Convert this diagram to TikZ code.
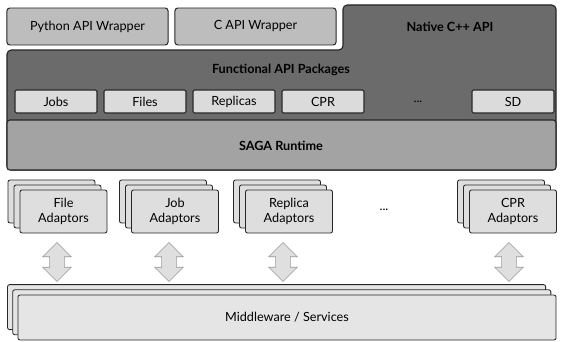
\documentclass[tikz,border=0pt]{standalone}
\usepackage{fontspec}
\setmainfont{Lato}
\usetikzlibrary{shapes.arrows,shadows}
\definecolor{wrapgray}{gray}{0.74}
\definecolor{coregray}{gray}{0.42}
\definecolor{rtgray}{gray}{0.64}
\definecolor{pkggray}{gray}{0.86}
\definecolor{adpgray}{gray}{0.87}
\definecolor{mwgray}{gray}{0.9}
\begin{document}
\begin{tikzpicture}[x=0.025cm, y=-0.025cm,
      font=\fontsize{9}{10.5}\selectfont,
      wrapbox/.style={draw=black!85, line width=0.7pt, rounded corners=2pt, fill=wrapgray, minimum width=4.025cm, minimum height=0.925cm},
      title/.style={font=\fontsize{9}{10.5}\selectfont\bfseries},
      pkgbox/.style={draw=black!85, line width=0.8pt, rounded corners=1pt, fill=pkggray, minimum width=2.05cm, minimum height=0.575cm},
      adpbox/.style={draw=black!85, line width=0.6pt, rounded corners=1.5pt, fill=adpgray, minimum width=2.175cm, minimum height=1.075cm, align=center, double copy shadow={shadow xshift=-0.15cm, shadow yshift=0.125cm}},
      mwbox/.style={draw=black!85, line width=0.6pt, rounded corners=1.5pt, fill=mwgray, minimum width=13.45cm, minimum height=1.125cm, double copy shadow={shadow xshift=-0.13cm, shadow yshift=0.13cm}},
      dblarrow/.style={double arrow, rotate=90, draw=gray!80, fill=gray!25, inner xsep=0pt, inner ysep=0.175cm, double arrow head extend=0.175cm, minimum height=0.975cm}
    ]
    \useasboundingbox (0,0) rectangle (562,342);
    \node[wrapbox] (python) at (87.5,26.5) {Python API Wrapper};
    \node[wrapbox] (capi) at (255.5,26.5) {C API Wrapper};
    \draw[draw=black!85, line width=0.8pt, rounded corners=3pt, fill=coregray] (7,50) -- (343,50) -- (343,5) -- (556,5) -- (556,170) -- (7,170) -- cycle;
    \draw[draw=black!85, line width=0.8pt, rounded corners=2pt, fill=rtgray] (7,120) rectangle (556,170);
    \node[title] (native) at (450,27) {Native C++ API};
    \node[title] (functional) at (281,70) {Functional API Packages};
    \node[title] (saga) at (281,146) {SAGA Runtime};
    \foreach \x/\name/\txt in {56/jobs/Jobs,145/files/Files,234/replicas/Replicas,323/cpr/CPR,513/sd/SD} {
      \node[pkgbox] (\name) at (\x,101.5) {\txt};
    }
    \node (pkgdots) at (418,102) {...};
    \foreach \x/\name/\txt in {63.5/fileadp/File,175/jobadp/Job,289/replicaadp/Replica,513/cpradp/CPR} {
      \node[adpbox] (\name) at (\x,211.5) {\txt\\Adaptors};
    }
    \node (adpdots) at (384,210) {...};
    \foreach \x/\name in {57/arrfile,169/arrjob,283/arrreplica,509/arrcpr} {
      \node[dblarrow] (\name) at (\x,262) {};
    }
    \node[mwbox] (mw) at (287,317.5) {Middleware / Services};
  \end{tikzpicture}
\end{document}
